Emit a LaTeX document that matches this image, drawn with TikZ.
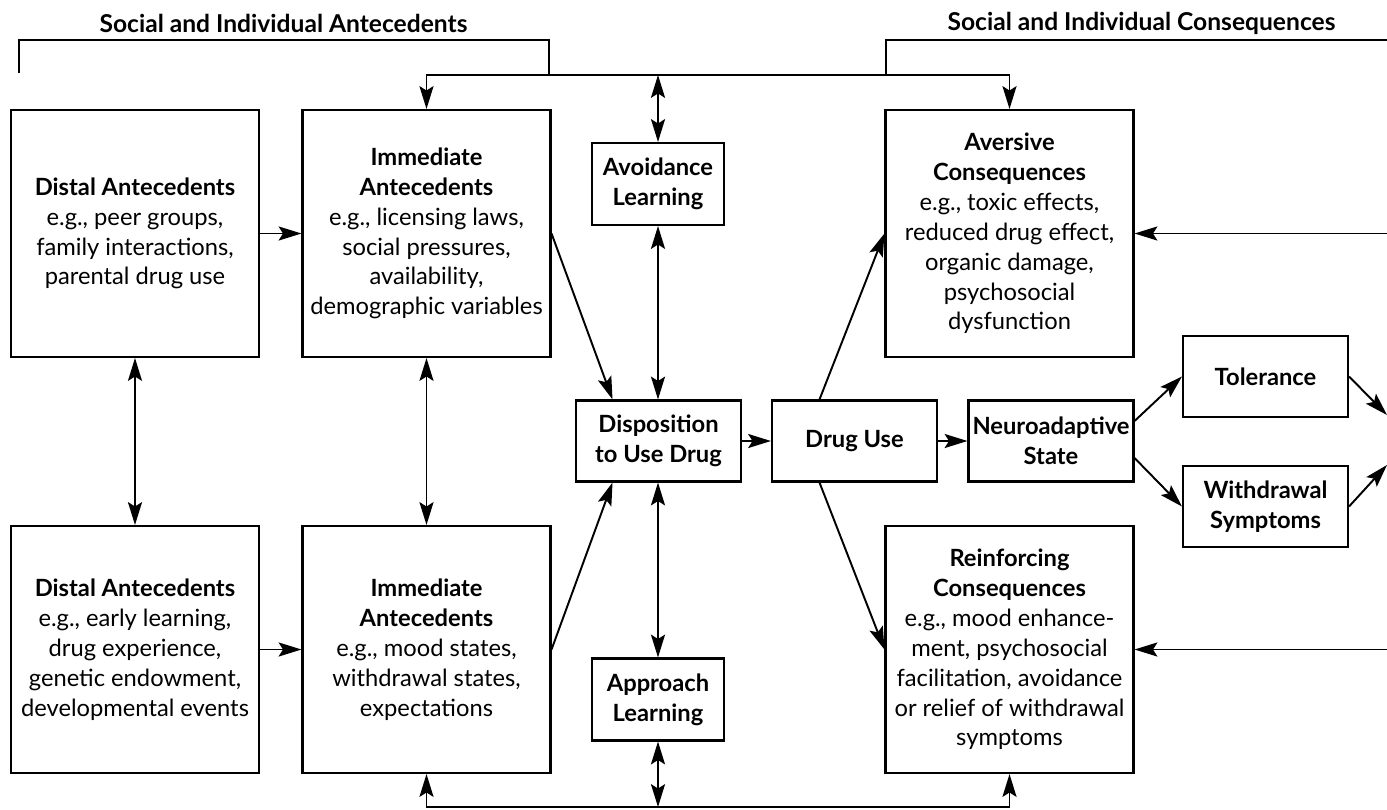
\documentclass[tikz,border=0pt]{standalone}
\usepackage{fontspec}
\setmainfont{Lato}
\usetikzlibrary{arrows.meta}

\tikzset{
  caja/.style={draw, line width=1.2pt, align=center, inner sep=2pt,
    font=\fontsize{13.5}{17}\selectfont},
  grande/.style={caja, minimum width=4.96cm, minimum height=4.94cm},
  media/.style={caja, minimum width=3.3cm, minimum height=1.62cm},
  chica/.style={caja, minimum width=2.64cm, minimum height=1.64cm},
  titulo/.style={font=\fontsize{14}{17}\selectfont\bfseries},
  linea/.style={line width=1.1pt},
  flecha/.style={linea, -{Stealth[length=13pt,width=8pt,inset=2.5pt]}},
  doble/.style={linea, {Stealth[length=13pt,width=8pt,inset=2.5pt]}-{Stealth[length=13pt,width=8pt,inset=2.5pt]}},
}

\begin{document}
\begin{tikzpicture}[x=0.02cm, y=-0.02cm]
    \useasboundingbox (0,0) rectangle (1387,809);

    % Titulos y corchetes
    \node[titulo] (tituloA) at (283.5,23) {Social and Individual Antecedents};
    \node[titulo] (tituloC) at (1141.5,23) {Social and Individual Consequences};
    \draw[linea] (19,73) -- (19,40) -- (549,40) -- (549,75);
    \draw[linea] (886,75) -- (886,40) -- (1387,40);

    % Antecedentes
    \node[grande] (distT) at (135,233.5) {\textbf{Distal Antecedents}\\e.g., peer groups,\\family interactions,\\parental drug use};
    \node[grande] (distB) at (135,649.5) {\textbf{Distal Antecedents}\\e.g., early learning,\\drug experience,\\genetic endowment,\\developmental events};
    \node[grande] (immT) at (426.5,233.5) {\textbf{Immediate}\\\textbf{Antecedents}\\e.g., licensing laws,\\social pressures,\\availability,\\demographic variables};
    \node[grande] (immB) at (426.5,649.5) {\textbf{Immediate}\\\textbf{Antecedents}\\e.g., mood states,\\withdrawal states,\\expectations};

    % Aprendizaje y disposicion
    \node[chica] (avoid) at (658,184) {\textbf{Avoidance}\\\textbf{Learning}};
    \node[chica] (appr) at (658,699.5) {\textbf{Approach}\\\textbf{Learning}};
    \node[media] (disp) at (658.5,441) {\textbf{Disposition}\\\textbf{to Use Drug}};
    \node[media] (drug) at (854.5,441) {\textbf{Drug Use}};
    \node[media] (neuro) at (1051,441) {\textbf{Neuroadaptive}\\\textbf{State}};
    \node[media] (tol) at (1265.5,376.5) {\textbf{Tolerance}};
    \node[media] (withd) at (1265.5,506.5) {\textbf{Withdrawal}\\\textbf{Symptoms}};

    % Consecuencias
    \node[grande] (aver) at (1009.5,233.5) {\textbf{Aversive}\\\textbf{Consequences}\\e.g., toxic effects,\\reduced drug effect,\\organic damage,\\psychosocial\\dysfunction};
    \node[grande] (reinf) at (1009.5,649.5) {\textbf{Reinforcing}\\\textbf{Consequences}\\e.g., mood enhance-\\ment, psychosocial\\facilitation, avoidance\\or relief of withdrawal\\symptoms};

    % Puntos auxiliares
    \coordinate (topR) at (1009.5,75);
    \coordinate (botR) at (1009.5,807);
    \coordinate (outA) at (1387,233.5);
    \coordinate (outR) at (1387,649.5);
    \coordinate (outT) at (1387,415);
    \coordinate (outW) at (1387,465);

    % Flechas
    \draw[flecha] (distT) -- (immT);
    \draw[flecha] (distB) -- (immB);
    \draw[doble] (distT) -- (distB);
    \draw[doble] (immT) -- (immB);
    \draw[flecha] (immT.east) -- ([xshift=-0.92cm]disp.north);
    \draw[flecha] (immB.east) -- ([xshift=-0.92cm]disp.south);
    \draw[doble] (avoid.south) -- (disp.north -| avoid.south);
    \draw[doble] (appr.north) -- (disp.south -| appr.north);
    \draw[flecha] (disp) -- (drug);
    \draw[flecha] (drug) -- (neuro);
    \draw[flecha] ([xshift=-0.7cm]drug.north) -- (aver.west);
    \draw[flecha] ([xshift=-0.7cm]drug.south) -- (reinf.west);
    \draw[flecha] ([yshift=0.4cm]neuro.east) -- (tol.west);
    \draw[flecha] ([yshift=-0.34cm]neuro.east) -- (withd.west);
    \draw[flecha] (tol.east) -- (outT);
    \draw[flecha] (withd.east) -- (outW);
    \draw[flecha] (outA) -- (aver.east);
    \draw[flecha] (outR) -- (reinf.east);

    % Lineas de arriba y abajo
    \draw[doble] (immT.north) |- (topR) -- (aver.north);
    \draw[doble] (avoid.north |- topR) -- (avoid.north);
    \draw[doble] (immB.south) |- (botR) -- (reinf.south);
    \draw[doble] (appr.south) -- (appr.south |- botR);
\end{tikzpicture}
\end{document}
